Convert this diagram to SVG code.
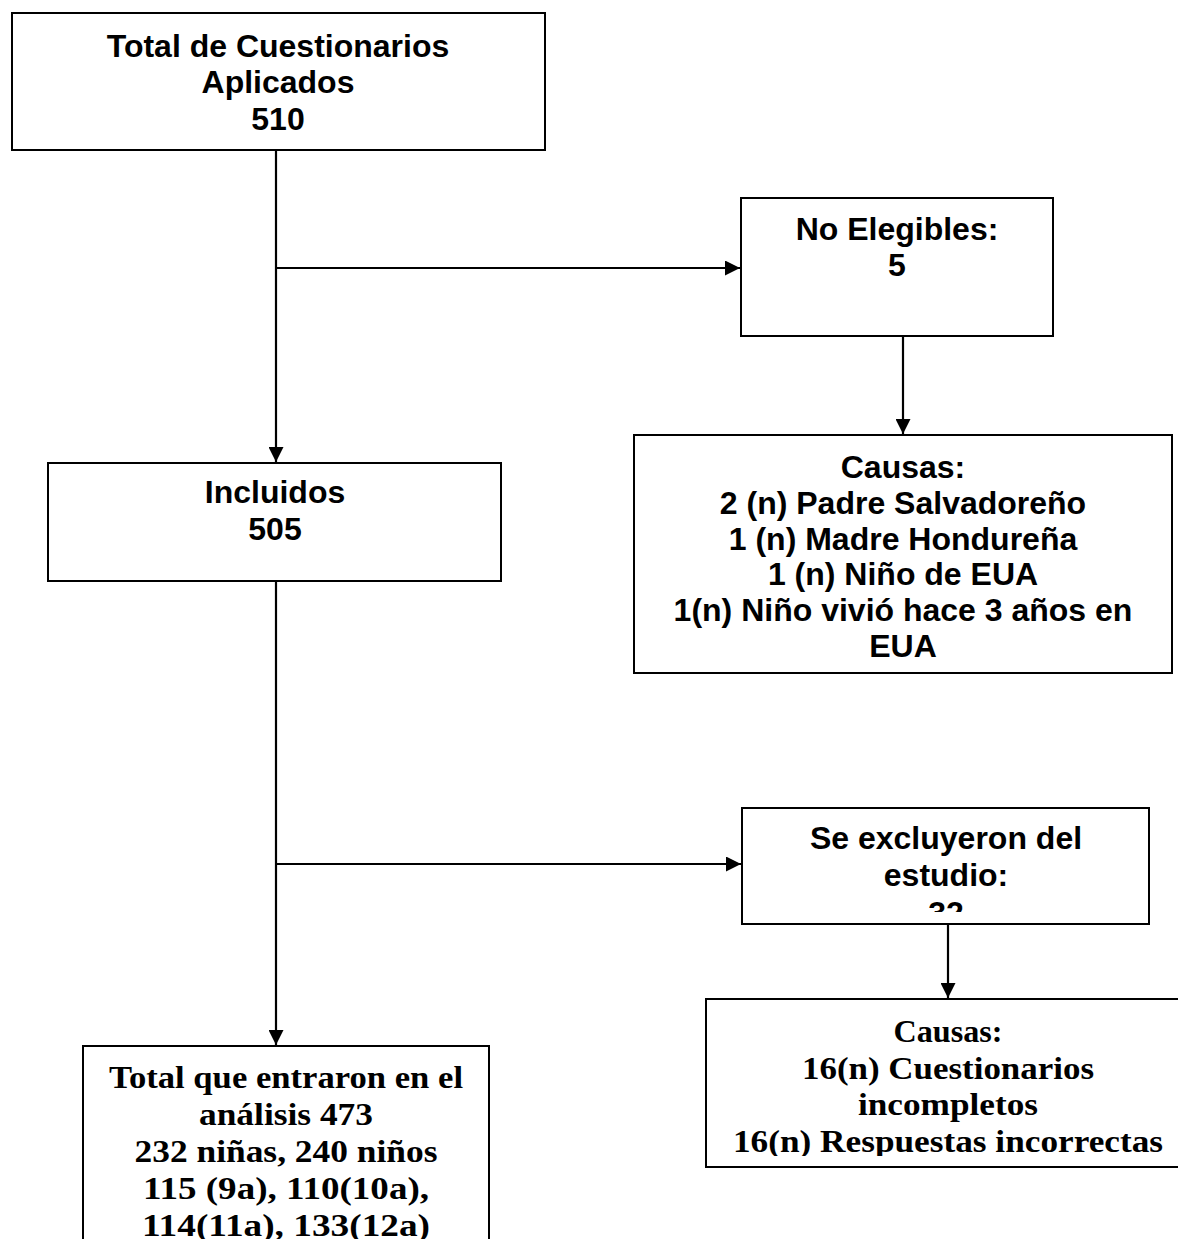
<svg xmlns="http://www.w3.org/2000/svg" width="1178" height="1239" viewBox="0 0 1178 1239">
<style>
.box{fill:#fff;stroke:#000;stroke-width:2}
.ln{fill:none;stroke:#000;stroke-width:2.2}
.s{font-family:"Liberation Sans",Arial,sans-serif;font-weight:bold;font-size:32px;fill:#000;text-anchor:middle}
.r{font-family:"Liberation Serif","Times New Roman",serif;font-weight:bold;font-size:32px;fill:#000;text-anchor:middle}
</style>
<defs>
<marker id="ah" markerUnits="userSpaceOnUse" markerWidth="15" markerHeight="15" refX="15" refY="7.5" orient="auto">
<path d="M0,0 L15,7.5 L0,15 Z" fill="#000"/>
</marker>
<clipPath id="c32"><rect x="742" y="808" width="407" height="104"/></clipPath>
<clipPath id="cc2"><rect x="706" y="999" width="484" height="157"/></clipPath>
</defs>
<rect width="1178" height="1239" fill="#fff"/>
<g id="connectors">
<line class="ln" x1="276" y1="150" x2="276" y2="462" marker-end="url(#ah)"/>
<line class="ln" x1="276" y1="268" x2="740" y2="268" marker-end="url(#ah)"/>
<line class="ln" x1="903" y1="336" x2="903" y2="434" marker-end="url(#ah)"/>
<line class="ln" x1="276" y1="581" x2="276" y2="1045" marker-end="url(#ah)"/>
<line class="ln" x1="276" y1="864" x2="741" y2="864" marker-end="url(#ah)"/>
<line class="ln" x1="948" y1="924" x2="948" y2="998" marker-end="url(#ah)"/>
</g>
<g id="total">
<rect class="box" x="12" y="13" width="533" height="137"/>
<text class="s" x="278" y="57">Total de Cuestionarios</text>
<text class="s" x="278" y="93">Aplicados</text>
<text class="s" x="278" y="130">510</text>
</g>
<g id="noelegibles">
<rect class="box" x="741" y="198" width="312" height="138"/>
<text class="s" x="897" y="240">No Elegibles:</text>
<text class="s" x="897" y="276">5</text>
</g>
<g id="causas1">
<rect class="box" x="634" y="435" width="538" height="238"/>
<text class="s" x="903" y="478">Causas:</text>
<text class="s" x="903" y="514">2 (n) Padre Salvadoreño</text>
<text class="s" x="903" y="550">1 (n) Madre Hondureña</text>
<text class="s" x="903" y="585">1 (n) Niño de EUA</text>
<text class="s" x="903" y="621">1(n) Niño vivió hace 3 años en</text>
<text class="s" x="903" y="657">EUA</text>
</g>
<g id="incluidos">
<rect class="box" x="48" y="463" width="453" height="118"/>
<text class="s" x="275" y="503">Incluidos</text>
<text class="s" x="275" y="540">505</text>
</g>
<g id="excluidos">
<rect class="box" x="742" y="808" width="407" height="116"/>
<text class="s" x="946" y="849">Se excluyeron del</text>
<text class="s" x="946" y="886">estudio:</text>
<text class="s" x="946" y="924" clip-path="url(#c32)">32</text>
</g>
<g id="causas2">
<rect class="box" x="706" y="999" width="484" height="168"/>
<g clip-path="url(#cc2)">
<text class="r" x="948" y="1042" textLength="109" lengthAdjust="spacingAndGlyphs">Causas:</text>
<text class="r" x="948" y="1079" textLength="292" lengthAdjust="spacingAndGlyphs">16(n) Cuestionarios</text>
<text class="r" x="948" y="1115" textLength="180" lengthAdjust="spacingAndGlyphs">incompletos</text>
<text class="r" x="948" y="1152" textLength="430" lengthAdjust="spacingAndGlyphs">16(n) Respuestas incorrectas</text>
</g>
</g>
<g id="analisis">
<rect class="box" x="83" y="1046" width="406" height="220"/>
<text class="r" x="286" y="1088" textLength="354" lengthAdjust="spacingAndGlyphs">Total que entraron en el</text>
<text class="r" x="286" y="1125" textLength="174" lengthAdjust="spacingAndGlyphs">análisis 473</text>
<text class="r" x="286" y="1162" textLength="303" lengthAdjust="spacingAndGlyphs">232 niñas, 240 niños</text>
<text class="r" x="286" y="1199" textLength="286" lengthAdjust="spacingAndGlyphs">115 (9a), 110(10a),</text>
<text class="r" x="286" y="1236" textLength="288" lengthAdjust="spacingAndGlyphs">114(11a), 133(12a)</text>
</g>
</svg>
